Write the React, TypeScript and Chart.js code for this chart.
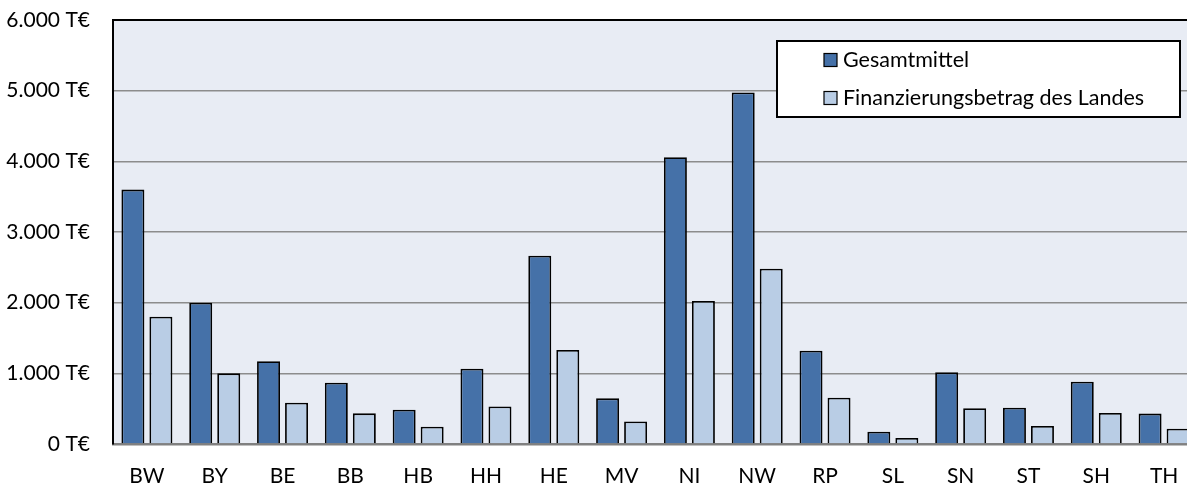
import { useEffect, useRef } from 'react';
import { Chart, registerables } from 'chart.js';

Chart.register(...registerables);

const categories = ['BW', 'BY', 'BE', 'BB', 'HB', 'HH', 'HE', 'MV', 'NI', 'NW', 'RP', 'SL', 'SN', 'ST', 'SH', 'TH'];
const gesamtmittel = [3600, 2000, 1170, 868, 486, 1066, 2665, 646, 4057, 4975, 1320, 175, 1014, 514, 882, 430];
const finanzierung = [1800, 1000, 585, 434, 245, 530, 1330, 320, 2024, 2480, 656, 85, 505, 255, 440, 217];
const seriesLabels = ['Gesamtmittel', 'Finanzierungsbetrag des Landes'];
const yMin = 0;
const yMax = 6000;
const yStep = 1000;

const FONT = 'Lato, "Open Sans", sans-serif';
const FONT_SIZE = 21;

function formatTick(v: number) {
  return v.toLocaleString('de-DE') + ' T€';
}

export default function App() {
  const ref = useRef<HTMLCanvasElement>(null);

  useEffect(() => {
    document.body.style.margin = '0';
    const plotPlugin = {
      id: 'plotDecor',
      beforeDraw(chart: any) {
        const { ctx, chartArea } = chart;
        const { left, top, right, bottom } = chartArea;
        ctx.save();
        ctx.fillStyle = '#E8ECF4';
        ctx.fillRect(left, top, right - left, bottom - top);
        ctx.restore();
      },
      afterDraw(chart: any) {
        const { ctx, chartArea } = chart;
        const { left, top, right, bottom } = chartArea;
        ctx.save();
        ctx.strokeStyle = '#000';
        ctx.lineWidth = 2;
        ctx.beginPath();
        ctx.moveTo(left - 1, top);
        ctx.lineTo(right, top);
        ctx.lineTo(right, bottom);
        ctx.stroke();
        // legend
        const bx = 777, by = 41, bw = 403, bh = 76;
        ctx.fillStyle = '#fff';
        ctx.fillRect(bx, by, bw, bh);
        ctx.lineWidth = 2;
        ctx.strokeStyle = '#000';
        ctx.strokeRect(bx, by, bw, bh);
        const rows = [60, 98];
        chart.data.datasets.forEach((ds: any, i: number) => {
          const cy = rows[i];
          ctx.fillStyle = ds.backgroundColor;
          ctx.fillRect(824, cy - 6.5, 13, 13);
          ctx.lineWidth = 1.2;
          ctx.strokeStyle = '#000';
          ctx.strokeRect(824, cy - 6.5, 13, 13);
          ctx.fillStyle = '#000';
          ctx.font = `21.5px ${FONT}`;
          ctx.textBaseline = 'middle';
          ctx.textAlign = 'left';
          ctx.fillText(ds.label, 843, cy);
        });
        ctx.restore();
      },
    };

    const chart = new Chart(ref.current as HTMLCanvasElement, {
      type: 'bar',
      data: {
        labels: categories,
        datasets: [
          {
            label: seriesLabels[0],
            data: gesamtmittel,
            backgroundColor: '#4571A8',
            borderColor: '#000',
            borderWidth: 1.8,
            categoryPercentage: 0.826,
            barPercentage: 0.82,
          },
          {
            label: seriesLabels[1],
            data: finanzierung,
            backgroundColor: '#B9CDE5',
            borderColor: '#000',
            borderWidth: 1.8,
            categoryPercentage: 0.826,
            barPercentage: 0.82,
          },
        ],
      },
      options: {
        animation: false,
        responsive: true,
        maintainAspectRatio: false,
        layout: { padding: { top: 20, left: 0, right: 2, bottom: 0 } },
        plugins: {
          legend: { display: false },
          tooltip: { enabled: false },
        },
        scales: {
          x: {
            grid: { display: false, drawTicks: false },
            border: { display: true, color: '#808080', width: 2.5 },
            ticks: {
              color: '#000',
              font: { family: FONT, size: FONT_SIZE },
              padding: 20,
              maxRotation: 0,
            },
            afterFit(s: any) {
              s.height = 40;
            },
          },
          y: {
            min: yMin,
            max: yMax,
            grid: {
              color: (c: any) => (c.tick && (c.tick.value === yMin || c.tick.value === yMax) ? 'rgba(0,0,0,0)' : '#8C8C8C'),
              lineWidth: 1.5,
              drawTicks: false,
            },
            border: { display: true, color: '#000', width: 2 },
            ticks: {
              stepSize: yStep,
              color: '#000',
              font: { family: FONT, size: FONT_SIZE },
              padding: 23,
              callback: (v: any) => formatTick(Number(v)),
            },
            afterFit(s: any) {
              s.width = 113;
              s.paddingTop = 0;
              s.paddingBottom = 0;
            },
          },
        },
      },
      plugins: [plotPlugin],
    });
    return () => chart.destroy();
  }, []);

  return (
    <div style={{ width: 1187, height: 484, overflow: 'hidden' }}>
      <div style={{ width: 1200, height: 484, position: 'relative' }}>
        <canvas ref={ref} />
      </div>
    </div>
  );
}
